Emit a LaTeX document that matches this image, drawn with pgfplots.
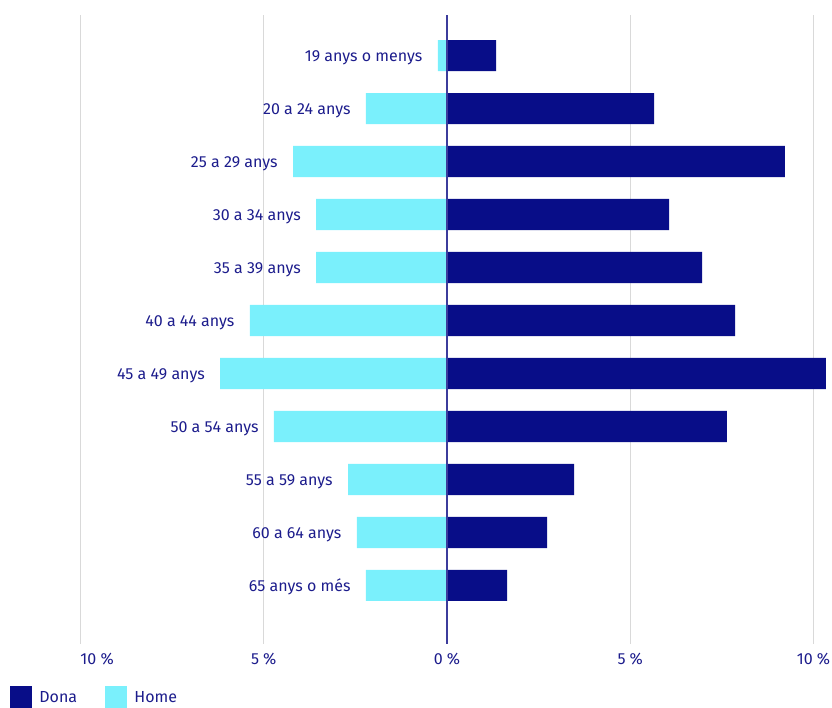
\documentclass[border=0pt]{standalone}
\usepackage{pgfplots}
\pgfplotsset{compat=1.18}
\usepackage{pgfplotstable}
\usepackage{fontspec}
\setmainfont{Fira Sans}
\definecolor{dona}{HTML}{080D88}
\definecolor{home}{HTML}{7AF0FC}
\definecolor{txt}{HTML}{1C1C8C}
\definecolor{zeroline}{HTML}{3C3C9C}
\definecolor{gridc}{HTML}{D9D9D9}
\pgfplotstableread[col sep=comma]{
y,dona,home,label
0,1.34,-0.25,19 anys o menys
1,5.65,-2.21,20 a 24 anys
2,9.22,-4.20,25 a 29 anys
3,6.06,-3.57,30 a 34 anys
4,6.96,-3.57,35 a 39 anys
5,7.86,-5.38,40 a 44 anys
6,10.34,-6.19,45 a 49 anys
7,7.64,-4.72,50 a 54 anys
8,3.47,-2.70,55 a 59 anys
9,2.73,-2.46,60 a 64 anys
10,1.64,-2.21,65 anys o més
}\datatable
\begin{document}
\begin{tikzpicture}[font=\fontsize{8}{10}\selectfont]
\useasboundingbox (0,0) rectangle (416pt,354pt);
\begin{axis}[
  at={(0pt,32pt)}, anchor=south west,
  scale only axis, width=416pt, height=314.5pt,
  xmin=-12.196, xmax=10.505,
  y dir=reverse, ymin=-0.764, ymax=11.104,
  axis line style={draw=none},
  major tick length=0pt,
  ytick=\empty,
  xtick={-10,-5,0,5,10},
  xticklabels={\makebox[0pt][l]{10 \%},5 \%,0 \%,5 \%,10 \%},
  xticklabel style={anchor=north, inner sep=0pt, yshift=-4.5pt, text=txt},
  xmajorgrids,
  grid style={gridc, line width=0.5pt},
]
\addplot[xbar, bar width=0.585, bar shift=0pt, fill=dona, draw=none] table[x=dona, y=y] {\datatable};
\addplot[xbar, bar width=0.585, bar shift=0pt, fill=home, draw=none] table[x=home, y=y] {\datatable};
\addplot[draw=none, mark=none, nodes near coords, point meta=explicit symbolic,
  nodes near coords style={anchor=base east, xshift=-7.5pt, yshift=-2.9pt, text=txt, inner sep=0pt}]
  table[x=home, y=y, meta=label] {\datatable};
\draw[zeroline, line width=0.7pt] (axis cs:0,-0.764) -- (axis cs:0,11.104);
\end{axis}
\fill[dona] (5pt,0pt) rectangle (16pt,11pt);
\node[anchor=west, inner sep=0pt, text=txt] at (19.5pt,5.5pt) {Dona};
\fill[home] (52.5pt,0pt) rectangle (63.5pt,11pt);
\node[anchor=west, inner sep=0pt, text=txt] at (67pt,5.5pt) {Home};
\end{tikzpicture}
\end{document}
